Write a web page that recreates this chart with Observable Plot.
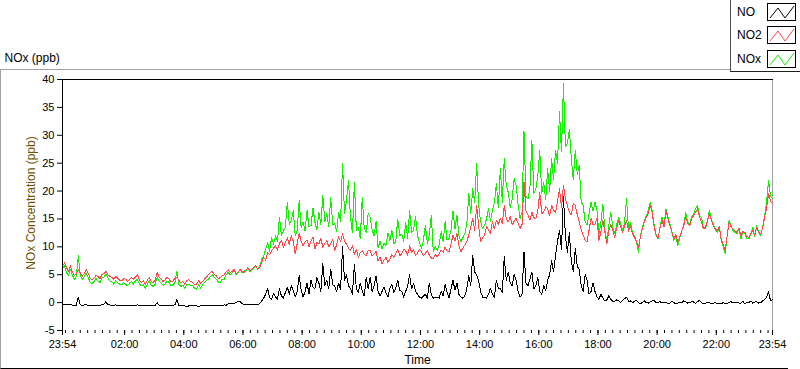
<!DOCTYPE html>
<html><head><meta charset="utf-8">
<script src="https://cdn.jsdelivr.net/npm/d3@7"></script>
<script src="https://cdn.jsdelivr.net/npm/@observablehq/plot@0.6"></script>
<style>
html,body{margin:0;padding:0;background:#fff;}
#wrap{position:relative;width:800px;height:369px;overflow:hidden;font-family:"Liberation Sans",Arial,sans-serif;color:#000;}
#chart{position:absolute;left:0;top:0;}
#frame{position:absolute;left:0;top:69px;width:788px;height:300px;box-sizing:border-box;border-top:1px solid #a0a0a0;border-left:1px solid #a0a0a0;border-bottom:1px solid #000;pointer-events:none;}
#legend{position:absolute;left:730px;top:-1px;width:75px;height:73px;box-sizing:border-box;background:#fff;border-left:1px solid #505050;border-bottom:1px solid #202020;font-size:12px;}
#legend .lab{position:absolute;left:6px;}
#legend svg{position:absolute;left:36px;}
</style></head>
<body><div id="wrap"><div id="chart"></div><div id="frame"></div><div id="legend"></div></div>
<script>
// ---- data (ppb), sampled every 4 minutes starting 23:54 ----
const seriesNames = ["NO", "NO2", "NOx"];
const seriesColors = ["#000000", "#ff4848", "#12f000"];
const startTime = "2000-01-01T23:54:00Z";
const stepMinutes = 4;
const no = [
 -0.3,-0.4,-0.4,-0.3,-0.3,-0.5,-0.5,-0.5,1.0,-0.4,-0.5,-0.4,-0.4,-0.5,-0.5,-0.6,-0.5,-0.5,-0.5,-0.5,
 -0.4,-0.3,0.2,-0.4,-0.4,-0.5,-0.5,-0.4,-0.5,-0.5,-0.6,-0.5,-0.5,-0.6,-0.6,-0.5,-0.5,-0.5,-0.4,-0.5,
 -0.6,-0.5,-0.6,-0.6,-0.5,-0.6,-0.6,-0.5,0.0,-0.5,-0.5,-0.6,-0.5,-0.5,-0.5,-0.6,-0.5,-0.4,0.6,-0.5,
 -0.6,-0.6,-0.6,-0.7,-0.6,-0.6,-0.6,-0.6,-0.6,-0.7,-0.6,-0.6,-0.5,-0.6,-0.5,-0.5,-0.5,-0.6,-0.5,-0.5,
 -0.5,-0.6,-0.4,-0.5,-0.2,-0.1,-0.1,-0.2,0.0,0.2,0.3,-0.2,-0.3,-0.4,-0.3,-0.4,-0.4,-0.3,-0.3,-0.4,
 -0.1,0.3,0.8,1.5,2.5,0.9,0.5,1.6,1.0,0.6,2.5,1.2,0.8,1.8,2.8,1.5,3.0,2.2,1.0,2.0,
 4.8,2.2,1.0,2.0,3.5,1.5,4.0,2.8,2.5,4.5,3.5,2.0,7.0,3.0,4.0,2.5,6.0,3.2,3.0,2.0,
 3.5,2.4,10.0,4.0,5.0,3.0,2.5,1.5,6.8,2.5,1.8,3.5,2.0,1.2,4.5,2.5,4.5,2.0,3.0,4.8,
 2.0,1.2,2.0,2.8,1.8,1.0,2.5,3.3,1.8,2.6,4.0,2.2,2.0,1.0,2.0,3.0,5.0,2.5,3.5,2.0,
 1.5,1.0,0.8,1.2,1.5,0.8,3.5,1.4,0.8,1.0,1.0,0.8,2.0,1.2,3.2,1.8,0.8,2.5,4.0,2.2,
 3.5,1.5,1.0,0.8,1.2,2.5,4.8,3.0,8.5,5.5,5.0,3.8,2.0,1.0,1.0,0.8,1.5,2.6,1.5,1.0,
 4.0,2.5,2.5,1.8,8.2,4.0,5.5,3.5,3.0,5.0,4.0,2.0,1.0,1.5,9.1,3.5,3.0,4.2,5.5,2.5,
 3.0,4.5,2.0,1.5,3.0,2.2,4.0,5.0,7.5,5.5,8.5,11.0,13.0,9.5,19.0,12.0,9.0,12.5,7.3,5.5,
 9.7,6.5,6.0,3.0,2.0,5.0,4.0,1.5,2.0,3.5,2.0,1.0,0.6,1.5,0.8,0.3,0.5,1.2,0.6,0.2,
 0.2,0.5,0.3,0.0,0.4,0.7,1.0,0.2,0.3,0.0,0.2,0.4,0.0,-0.2,0.0,0.3,0.0,-0.1,0.1,0.3,
 0.4,0.0,0.0,0.2,-0.1,0.1,0.0,-0.2,-0.1,0.2,0.0,-0.2,-0.1,0.1,0.0,0.3,0.2,-0.1,0.0,0.2,
 0.1,-0.1,0.2,0.4,0.0,-0.2,-0.1,0.1,0.0,-0.2,-0.1,0.0,-0.2,-0.1,-0.2,0.0,-0.2,-0.1,0.0,0.2,
 -0.1,0.1,0.1,-0.1,-0.1,0.2,-0.2,0.0,0.0,0.3,-0.1,0.1,0.2,-0.1,0.0,0.3,0.5,1.0,2.0,0.3,
 0.5];
const no2 = [
 6.6,7.1,6.3,5.6,6.6,5.5,4.8,5.2,6.0,5.3,4.7,5.2,5.9,5.3,4.4,4.1,4.4,4.9,4.7,4.3,
 5.0,5.2,5.6,5.0,4.7,4.5,4.2,4.7,4.4,4.0,3.9,4.3,4.2,3.8,4.1,4.5,4.2,4.6,5.0,4.0,
 3.6,3.9,3.3,4.0,4.5,3.8,3.6,4.0,5.4,4.6,4.2,3.8,4.1,4.6,4.2,3.7,3.9,4.3,4.5,4.0,
 3.5,3.8,3.3,3.9,4.1,3.8,3.6,3.2,3.3,3.9,3.5,3.8,4.2,4.6,5.0,5.4,5.6,5.0,4.8,4.3,
 4.5,4.8,5.0,5.5,5.9,5.4,5.6,6.0,5.1,5.5,5.9,5.6,5.4,5.8,6.3,5.7,6.0,6.4,6.6,6.0,
 6.3,7.2,8.1,7.6,9.0,8.6,9.3,9.8,10.2,9.4,10.6,11.2,9.9,10.8,11.6,10.4,12.0,11.0,8.7,10.6,
 12.5,11.0,10.2,10.9,11.2,10.0,11.1,11.8,9.6,10.8,10.5,11.6,9.9,10.6,11.1,10.0,10.5,11.4,9.3,10.4,
 11.8,10.9,12.3,11.0,10.5,9.8,9.3,10.2,8.7,9.6,8.1,9.0,9.3,8.6,8.4,9.4,9.3,8.4,8.7,9.2,
 7.5,8.2,6.9,7.6,8.1,7.2,7.8,8.6,8.1,8.8,9.6,8.4,8.7,9.6,9.3,8.5,10.2,9.0,9.6,8.4,
 8.8,9.6,9.1,8.4,8.8,9.3,8.5,8.0,7.9,8.6,8.2,8.8,9.4,9.0,10.0,9.2,9.1,10.5,12.1,11.0,
 12.4,10.2,9.1,9.8,10.3,11.0,12.1,13.5,15.1,13.0,17.4,13.8,10.9,11.6,12.1,13.6,13.0,12.4,14.5,13.2,
 14.8,14.0,15.1,14.2,17.4,15.0,14.5,15.4,13.9,14.6,15.1,14.2,13.3,14.0,21.6,16.5,15.7,14.8,16.2,15.2,
 15.1,16.4,19.8,16.0,16.2,17.2,16.8,15.6,17.4,16.6,16.2,18.2,20.4,17.0,21.0,18.6,17.4,16.2,15.7,17.8,
 17.4,15.8,14.5,13.0,12.1,11.2,10.9,13.0,15.1,14.0,14.0,15.2,11.1,12.8,14.7,12.6,10.5,12.8,14.1,13.0,
 11.7,13.4,14.7,13.6,12.6,13.8,14.7,12.8,13.8,12.4,11.7,11.0,9.9,11.8,13.2,14.4,15.3,16.0,17.4,16.2,
 13.5,12.0,11.7,13.4,14.7,13.6,16.5,15.0,13.8,12.6,11.4,12.2,10.8,11.8,12.9,13.8,15.3,14.2,13.8,15.0,
 15.6,16.2,16.8,15.4,14.4,13.2,13.5,14.6,15.9,14.8,13.8,13.2,12.9,13.6,11.4,10.4,9.3,12.0,14.4,13.6,
 13.2,12.8,12.6,13.4,12.0,12.8,12.6,11.8,11.7,12.4,12.9,12.0,13.5,12.6,12.3,13.4,15.3,17.0,19.5,18.2,
 17.7];
const nox = [
 6.0,6.6,5.4,4.8,6.0,4.9,4.2,4.6,8.4,4.8,4.1,4.7,5.3,4.6,3.6,3.4,3.8,4.3,3.9,3.6,
 4.4,4.6,5.1,4.4,3.9,3.8,3.3,3.9,3.6,3.3,3.2,3.6,3.3,3.0,3.5,3.8,3.3,3.9,4.2,3.3,
 3.0,3.2,2.6,3.3,3.9,3.1,2.9,3.3,4.5,3.8,3.5,3.1,3.3,3.9,3.6,3.0,3.2,3.6,5.6,3.3,
 2.9,3.1,2.6,3.2,3.3,3.1,3.0,2.6,2.4,3.2,2.6,3.2,3.6,4.0,4.2,4.7,5.0,4.5,4.2,3.7,
 3.6,4.2,4.2,5.0,5.4,5.0,5.3,5.8,5.0,5.4,6.0,5.4,5.7,5.6,6.3,5.5,5.9,6.3,6.6,5.9,
 6.5,7.8,8.4,9.5,10.8,9.2,11.6,10.5,12.0,11.0,15.3,12.0,12.9,13.5,18.0,14.0,14.7,16.5,12.0,13.0,
 18.3,13.5,14.4,12.8,16.5,13.6,13.8,17.0,14.4,13.0,16.2,14.0,19.2,14.5,15.9,13.6,18.8,14.0,14.1,12.8,
 16.2,14.6,25.0,16.0,18.3,21.9,15.3,12.5,21.6,13.0,13.5,11.5,18.9,13.2,12.6,16.0,15.3,13.0,12.0,14.5,
 9.9,11.0,9.6,10.6,10.2,12.5,11.1,13.0,10.5,11.0,15.0,12.0,12.3,11.0,14.4,11.5,16.5,12.6,12.9,15.5,
 12.0,10.8,9.7,11.2,13.9,10.6,12.1,15.7,9.1,10.0,9.4,10.4,12.7,11.0,14.5,11.2,11.5,13.0,16.5,13.2,
 15.7,12.0,10.9,11.6,12.4,14.0,19.5,16.0,20.4,18.0,24.9,17.5,14.5,13.2,13.9,15.0,16.8,14.6,16.5,18.0,
 21.3,17.0,24.0,18.0,25.8,21.0,19.8,17.0,18.6,22.2,21.0,17.5,15.1,16.2,30.7,19.0,18.6,20.5,29.1,19.6,
 20.4,22.8,27.3,19.5,21.6,18.4,24.0,20.0,25.8,22.0,27.3,25.0,34.2,27.0,39.2,28.0,28.5,31.0,25.8,22.0,
 27.3,23.0,24.6,18.0,17.4,14.5,13.9,16.0,18.0,16.4,18.0,16.5,12.3,14.4,17.7,13.0,11.1,13.8,16.2,13.6,
 12.3,14.0,15.3,14.2,12.9,14.4,18.6,13.2,14.4,12.6,12.0,11.0,9.0,12.0,13.5,14.6,15.6,16.5,18.0,16.5,
 13.8,12.2,11.4,13.7,15.3,13.9,16.8,15.3,14.1,12.8,11.1,12.0,10.2,11.6,12.9,14.0,16.2,14.4,14.1,15.3,
 15.9,16.8,17.4,15.6,15.3,13.2,13.2,14.7,16.5,14.9,14.1,13.0,12.6,13.5,11.1,10.0,8.8,12.0,14.7,13.8,
 12.9,12.6,12.3,13.2,11.4,12.6,12.3,11.5,11.4,12.2,13.5,11.9,13.8,12.6,12.0,13.5,15.6,18.0,21.9,19.0,
 18.6];
// x tick labels (hours of day) and y ticks
const xTickLabels = ["23:54","02:00","04:00","06:00","08:00","10:00","12:00","14:00","16:00","18:00","20:00","22:00","23:54"];
const yTicks = [-5,0,5,10,15,20,25,30,35,40];
const titleText = "NOx (ppb)";
const yLabel = "NOx Concentration (ppb)";
const xLabel = "Time";

// ---- build ----
const t0 = new Date(startTime).getTime();
const MIN = 60000;
const tEnd = t0 + 1440 * MIN;
const time = i => new Date(t0 + i * stepMinutes * MIN);
const rows = [];
[[nox, "NOx"], [no2, "NO2"], [no, "NO"]].forEach(([arr, name]) =>
  arr.forEach((v, i) => rows.push({t: time(i), v, s: name})));

const majorTicks = xTickLabels.map((lab, k) => {
  if (k === 0) return new Date(t0);
  if (k === xTickLabels.length - 1) return new Date(tEnd);
  const [h, m] = lab.split(":").map(Number);
  return new Date(Date.UTC(2000, 0, 2, h, m));
});
const minorTicks = d3.utcMinute.every(15).range(new Date(t0), new Date(tEnd));

const plot = Plot.plot({
  width: 800, height: 369,
  marginLeft: 62, marginRight: 28, marginTop: 79, marginBottom: 39,
  style: {background: "transparent", fontFamily: "'Liberation Sans', Arial, sans-serif", fontSize: "11px", color: "#000", overflow: "visible"},
  x: {type: "utc", domain: [new Date(t0), new Date(tEnd)]},
  y: {domain: [-5, 40]},
  color: {domain: seriesNames, range: seriesColors},
  marks: [
    Plot.frame({anchor: "right", stroke: "#a0a0a0"}),
    Plot.frame({anchor: "top", stroke: "#000"}),
    Plot.lineY(rows.filter(d => d.s === "NOx"), {x: "t", y: "v", stroke: "s", strokeWidth: 1, shapeRendering: "crispEdges"}),
    Plot.lineY(rows.filter(d => d.s === "NO2"), {x: "t", y: "v", stroke: "s", strokeWidth: 1, shapeRendering: "crispEdges"}),
    Plot.lineY(rows.filter(d => d.s === "NO"), {x: "t", y: "v", stroke: "s", strokeWidth: 1, shapeRendering: "crispEdges"}),
    Plot.frame({anchor: "left", stroke: "#000"}),
    Plot.axisY({ticks: yTicks, tickSize: 5, tickPadding: 3, tickFormat: d => String(d), label: null, fontSize: 11}),
    Plot.axisX({ticks: minorTicks, tickSize: 3, tickFormat: () => "", label: null}),
    Plot.axisX({ticks: majorTicks, tickSize: 5, tickPadding: 5, tickFormat: (d, i) => xTickLabels[i], label: null, fontSize: 11}),
    Plot.text([yLabel], {frameAnchor: "left", rotate: -90, dx: -31, dy: -2, fill: "#6e5200", fontSize: 12, textAnchor: "middle", lineAnchor: "middle"}),
    Plot.text([xLabel], {frameAnchor: "bottom", dy: 30, fill: "#000", fontSize: 12, textAnchor: "middle", lineAnchor: "middle"}),
    Plot.text([titleText], {frameAnchor: "top-left", dx: -58, dy: -21, fill: "#000", fontSize: 12, textAnchor: "start", lineAnchor: "middle"})
  ]
});
document.getElementById("chart").appendChild(plot);

// legend (decorative swatches)
const leg = document.getElementById("legend");
seriesNames.forEach((name, k) => {
  const top = 4 + k * 23.3;
  const lab = document.createElement("div");
  lab.className = "lab";
  lab.style.top = (top + 2) + "px";
  lab.textContent = name;
  leg.appendChild(lab);
  const ns = "http://www.w3.org/2000/svg";
  const svg = document.createElementNS(ns, "svg");
  svg.setAttribute("width", 30); svg.setAttribute("height", 19);
  svg.style.top = top + "px";
  const r = document.createElementNS(ns, "rect");
  r.setAttribute("x", 0.5); r.setAttribute("y", 0.5); r.setAttribute("width", 28); r.setAttribute("height", 17);
  r.setAttribute("fill", "#fff"); r.setAttribute("stroke", "#000");
  svg.appendChild(r);
  const p = document.createElementNS(ns, "polyline");
  p.setAttribute("points", "3,15 11,5 18,15 27,3");
  p.setAttribute("fill", "none"); p.setAttribute("stroke", seriesColors[k]);
  svg.appendChild(p);
  leg.appendChild(svg);
});
</script></body></html>
